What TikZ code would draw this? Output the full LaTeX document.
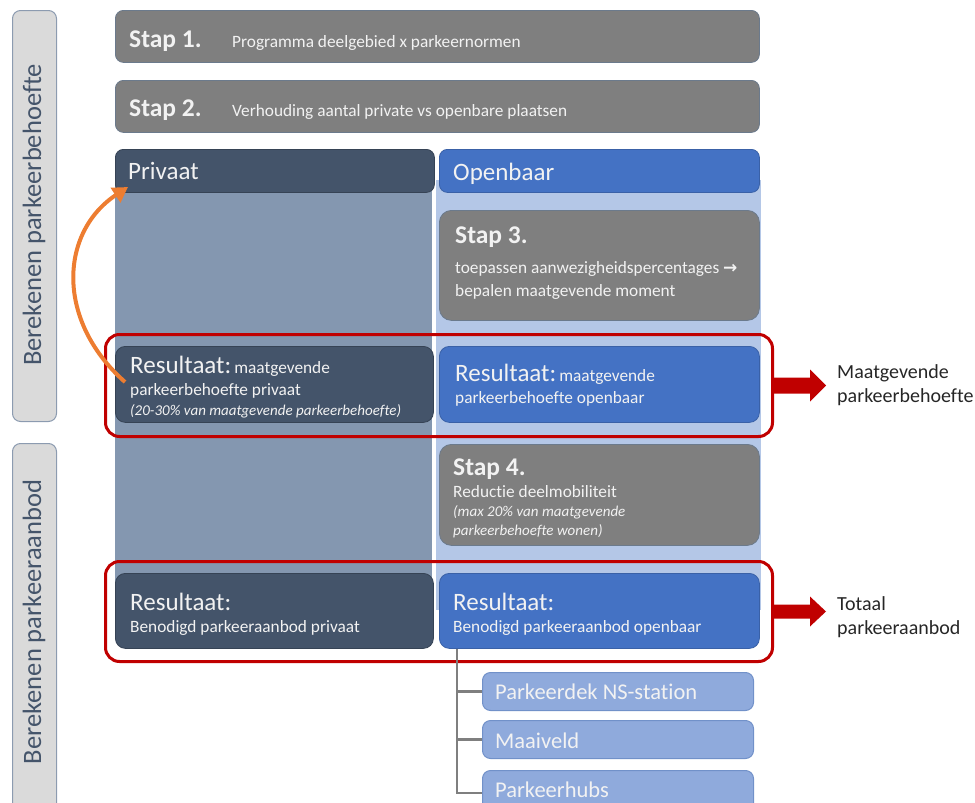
\documentclass[tikz,border=0pt]{standalone}
\usepackage{fontspec}
\setmainfont{Carlito}[Ligatures={NoCommon,TeX}]
\newfontfamily\arrowfont{DejaVu Sans}
\usetikzlibrary{arrows.meta,calc}
\definecolor{stepgray}{HTML}{7F7F7F}
\definecolor{stepborder}{HTML}{6B7A8C}
\definecolor{privdark}{HTML}{44546A}
\definecolor{privbg}{HTML}{8497B0}
\definecolor{openblue}{HTML}{4472C4}
\definecolor{openbg}{HTML}{B4C7E7}
\definecolor{leafblue}{HTML}{8FAADC}
\definecolor{leafborder}{HTML}{7191C9}
\definecolor{redc}{HTML}{C00000}
\definecolor{orangec}{HTML}{ED7D31}
\definecolor{sidefill}{HTML}{DADADA}
\definecolor{sideborder}{HTML}{8C9BB0}
\definecolor{txtlight}{HTML}{F2F2F2}
\definecolor{txtdark}{HTML}{262626}
\begin{document}
\begin{tikzpicture}[x=1pt,y=-1pt,
  box/.style={rounded corners=8pt, line width=0.8pt, inner sep=0pt, anchor=north west},
  stepbox/.style={box, fill=stepgray, draw=stepborder},
  sidebox/.style={box, fill=sidefill, draw=sideborder, line width=1pt},
  privbox/.style={box, fill=privdark, draw=privdark!80!black},
  openbox/.style={box, fill=openblue, draw=openblue!85!black},
  leafbox/.style={box, fill=leafblue, draw=leafborder, line width=1pt},
  colbg/.style={box, rounded corners=0pt, draw=none},
  redframe/.style={box, draw=redc, line width=3pt, rounded corners=14pt},
  redarrow/.style={fill=redc},
  treeline/.style={draw=stepgray, line width=2.5pt},
  t/.style={anchor=base west, inner sep=0pt, text=txtlight},
  big/.style={font=\fontsize{25}{30}\selectfont},
  bigb/.style={font=\bfseries\fontsize{25.5}{30}\selectfont},
  mid/.style={font=\fontsize{17.3}{21}\selectfont},
  sml/.style={font=\itshape\fontsize{15}{18}\selectfont},
  leaft/.style={font=\fontsize{22.5}{27}\selectfont},
  rt/.style={anchor=base west, inner sep=0pt, text=txtdark, font=\fontsize{20}{24}\selectfont},
  sidet/.style={rotate=90, inner sep=0pt, text=privdark, font=\fontsize{26.5}{31}\selectfont}
]
\useasboundingbox (0,0) rectangle (975,803);
\clip (0,0) rectangle (975,803);

% side labels
\node[sidebox, minimum width=44pt, minimum height=411pt] (side1) at (12,10) {};
\node[sidet] (side1t) at (34,215) {Berekenen parkeerbehoefte};
\node[sidebox, minimum width=44pt, minimum height=420pt] (side2) at (12,443) {};
\node[sidet] (side2t) at (34,622) {Berekenen parkeeraanbod};

% steps 1 and 2
\node[stepbox, minimum width=644pt, minimum height=52pt] (s1) at (115,10) {};
\node[t, bigb] (s1a) at (129,47) {Stap 1.};
\node[t, mid] (s1b) at (232,47) {Programma deelgebied x parkeernormen};
\node[stepbox, minimum width=644pt, minimum height=52pt] (s2) at (115,80) {};
\node[t, bigb] (s2a) at (129,116) {Stap 2.};
\node[t, mid] (s2b) at (232,116) {Verhouding aantal private vs openbare plaatsen};

% column backgrounds
\node[colbg, fill=privbg, minimum width=317pt, minimum height=430pt] (pcol) at (115,172) {};
\node[colbg, fill=openbg, minimum width=325pt, minimum height=430pt] (ocol) at (436,180) {};

% headers
\node[privbox, minimum width=319pt, minimum height=43pt] (ph) at (115,149) {};
\node[t, big] (pht) at (128,179) {Privaat};
\node[openbox, minimum width=320pt, minimum height=43pt] (oh) at (439,149) {};
\node[t, big] (oht) at (453,180) {Openbaar};

% step 3
\node[stepbox, minimum width=320pt, minimum height=110pt, rounded corners=12pt] (s3) at (439,210) {};
\node[t, bigb] (s3a) at (455,243) {Stap 3.};
\node[t, mid] (s3b) at (455,273) {toepassen aanwezigheidspercentages {\arrowfont\bfseries\fontsize{17}{20}\selectfont →}};
\node[t, mid] (s3c) at (455,296) {bepalen maatgevende moment};

% results 1
\node[privbox, minimum width=318pt, minimum height=76pt, rounded corners=10pt] (rp1) at (115,346) {};
\node[t] (rp1a) at (130,373) {{\fontsize{25}{30}\selectfont Resultaat:} {\fontsize{17.3}{21}\selectfont maatgevende}};
\node[t, mid] (rp1b) at (130,395) {parkeerbehoefte privaat};
\node[t, sml] (rp1c) at (130,415) {(20-30\% van maatgevende parkeerbehoefte)};
\node[openbox, minimum width=320pt, minimum height=76pt, rounded corners=10pt] (ro1) at (439,346) {};
\node[t] (ro1a) at (455,381) {{\fontsize{25}{30}\selectfont Resultaat:} {\fontsize{17.3}{21}\selectfont maatgevende}};
\node[t, mid] (ro1b) at (455,403) {parkeerbehoefte openbaar};

% step 4
\node[stepbox, minimum width=320pt, minimum height=101pt, rounded corners=12pt] (s4) at (439,444) {};
\node[t, bigb] (s4a) at (453,475) {Stap 4.};
\node[t, mid] (s4b) at (453,497) {Reductie deelmobiliteit};
\node[t, sml] (s4c) at (453,516) {(max 20\% van maatgevende};
\node[t, sml] (s4d) at (453,535) {parkeerbehoefte wonen)};

% results 2
\node[privbox, minimum width=318pt, minimum height=75pt, rounded corners=10pt] (rp2) at (115,573) {};
\node[t, big] (rp2a) at (130,610) {Resultaat:};
\node[t, mid] (rp2b) at (130,632) {Benodigd parkeeraanbod privaat};
\node[openbox, minimum width=320pt, minimum height=75pt, rounded corners=10pt] (ro2) at (439,573) {};
\node[t, big] (ro2a) at (453,610) {Resultaat:};
\node[t, mid] (ro2b) at (453,632) {Benodigd parkeeraanbod openbaar};

% red frames
\node[redframe, minimum width=667pt, minimum height=102pt] (rf1) at (104,333) {};
\node[redframe, minimum width=667pt, minimum height=100pt] (rf2) at (104,560) {};

% red block arrows
\fill[redarrow] ($(rf1.east)+(0,-8)$) -- ++(36,0) -- ++(0,-8) -- ++(16,16) -- ++(-16,16) -- ++(0,-8) -- ++(-36,0) -- cycle;
\fill[redarrow] ($(rf2.east)+(0,-7)$) -- ++(36,0) -- ++(0,-8) -- ++(16,15) -- ++(-16,15) -- ++(0,-8) -- ++(-36,0) -- cycle;
\node[rt] (m1) at (837,378) {Maatgevende};
\node[rt] (m2) at (837,402) {parkeerbehoefte};
\node[rt] (p1) at (837,610) {Totaal};
\node[rt] (p2) at (837,634) {parkeeraanbod};

% leaves
\node[leafbox, minimum width=271pt, minimum height=38pt] (l1) at (482,672) {};
\node[t, leaft] (l1t) at (495,699) {Parkeerdek NS-station};
\node[leafbox, minimum width=271pt, minimum height=38pt] (l2) at (482,720) {};
\node[t, leaft] (l2t) at (495,748) {Maaiveld};
\node[leafbox, minimum width=271pt, minimum height=45pt] (l3) at (482,770) {};
\node[t, leaft] (l3t) at (495,797) {Parkeerhubs};
\draw[treeline] ($(ro2.south west)+(18,0)$) |- (l1.west);
\draw[treeline] ($(ro2.south west)+(18,0)$) |- (l2.west);
\draw[treeline] ($(ro2.south west)+(18,0)$) |- (l3.west);

% orange arrow
\coordinate (os) at (125,382);
\coordinate (oe) at (128,187);
\draw[orangec, line width=4pt, -{Triangle[length=15pt,width=17pt]}] (os) .. controls (55,320) and (60,232) .. (oe);
\end{tikzpicture}
\end{document}
